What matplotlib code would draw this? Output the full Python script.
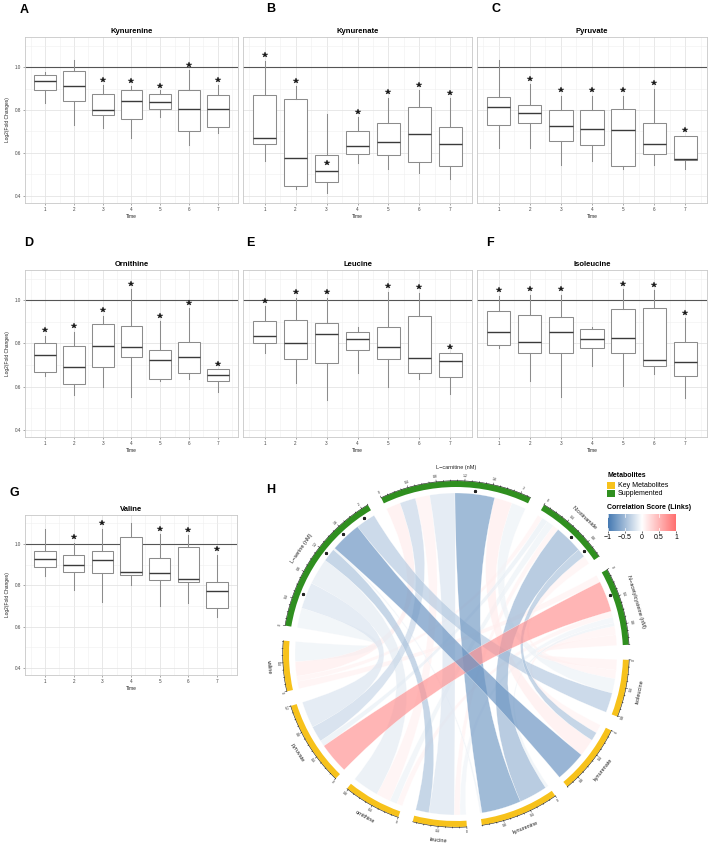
import numpy as np
import matplotlib
matplotlib.use("Agg")
import matplotlib.pyplot as plt
from matplotlib.path import Path
from matplotlib.patches import PathPatch, Wedge, Rectangle
from matplotlib.colors import LinearSegmentedColormap, Normalize

plt.rcParams['font.family'] = ['Liberation Sans', 'DejaVu Sans']

# ---------------- data ----------------
time_points = [1, 2, 3, 4, 5, 6, 7]
y_ticks = [0.4, 0.6, 0.8, 1.0]

# per time point: [lower whisker, Q1, median, Q3, upper whisker]
kynurenine_box = [[0.831, 0.892, 0.937, 0.965, 0.977], [0.728, 0.842, 0.911, 0.980, 1.031],
                  [0.718, 0.775, 0.800, 0.874, 0.915], [0.672, 0.758, 0.842, 0.895, 0.911],
                  [0.766, 0.803, 0.835, 0.874, 0.892], [0.638, 0.702, 0.806, 0.891, 0.985],
                  [0.692, 0.723, 0.803, 0.872, 0.915]]
kynurenine_star = [None, None, 0.940, 0.934, 0.914, 1.010, 0.938]

kynurenate_box = [[0.562, 0.640, 0.668, 0.872, 1.026], [0.431, 0.446, 0.577, 0.849, 0.911],
                  [0.412, 0.466, 0.514, 0.592, 0.782], [0.554, 0.595, 0.634, 0.703, 0.766],
                  [0.523, 0.591, 0.651, 0.738, 0.858], [0.508, 0.557, 0.688, 0.815, 0.892],
                  [0.477, 0.538, 0.643, 0.720, 0.854]]
kynurenate_star = [1.054, 0.935, 0.554, 0.792, 0.885, 0.915, 0.880]

pyruvate_box = [[0.623, 0.729, 0.814, 0.862, 1.034], [0.623, 0.740, 0.785, 0.823, 0.920],
                [0.542, 0.657, 0.726, 0.800, 0.866], [0.562, 0.637, 0.712, 0.800, 0.866],
                [0.523, 0.538, 0.708, 0.806, 0.866], [0.543, 0.595, 0.642, 0.738, 0.900],
                [0.523, 0.566, 0.574, 0.677, 0.677]]
pyruvate_star = [None, 0.946, 0.892, 0.892, 0.892, 0.926, 0.708]

ornithine_box = [[0.651, 0.666, 0.746, 0.803, 0.835], [0.563, 0.612, 0.692, 0.788, 0.855],
                 [0.600, 0.692, 0.789, 0.892, 0.929], [0.551, 0.738, 0.782, 0.880, 1.051],
                 [0.625, 0.635, 0.725, 0.769, 0.905], [0.635, 0.662, 0.738, 0.805, 0.963],
                 [0.574, 0.626, 0.652, 0.682, 0.682]]
ornithine_star = [0.863, 0.880, 0.954, 1.077, 0.928, 0.988, 0.705]

leucine_box = [[0.758, 0.803, 0.835, 0.902, 0.972], [0.615, 0.729, 0.802, 0.908, 1.012],
               [0.540, 0.709, 0.843, 0.894, 1.012], [0.662, 0.769, 0.820, 0.851, 0.874],
               [0.597, 0.726, 0.785, 0.878, 1.040], [0.635, 0.663, 0.731, 0.925, 1.035],
               [0.566, 0.643, 0.718, 0.757, 0.757]]
leucine_star = [0.997, 1.038, 1.038, None, 1.066, 1.062, 0.782]

isoleucine_box = [[0.778, 0.791, 0.851, 0.949, 1.020], [0.628, 0.755, 0.809, 0.932, 1.025],
                  [0.551, 0.754, 0.855, 0.923, 1.025], [0.697, 0.780, 0.822, 0.866, 0.877],
                  [0.605, 0.755, 0.825, 0.958, 1.051], [0.658, 0.697, 0.725, 0.963, 1.046],
                  [0.546, 0.649, 0.712, 0.805, 0.920]]
isoleucine_star = [1.046, 1.051, 1.051, None, 1.077, 1.071, 0.943]

valine_box = [[0.844, 0.887, 0.928, 0.966, 1.074], [0.780, 0.867, 0.897, 0.949, 1.005],
              [0.718, 0.862, 0.923, 0.966, 1.070], [0.800, 0.848, 0.867, 1.033, 1.100],
              [0.698, 0.828, 0.861, 0.933, 1.049], [0.715, 0.818, 0.833, 0.987, 1.041],
              [0.648, 0.693, 0.772, 0.815, 0.948]]
valine_star = [None, 1.034, 1.100, None, 1.074, 1.066, 0.975]

# chord diagram
supplements = ['L\u2212carnitine (nM)', 'Nicotinamide', 'N\u2212acetylcysteine (nM)', 'L\u2212serine (nM)']
metabolites = ['isoleucine', 'kynurenate', 'kynurenine', 'leucine', 'ornithine', 'pyruvate', 'valine']
sector_order = ['L\u2212carnitine (nM)', 'Nicotinamide', 'N\u2212acetylcysteine (nM)', 'isoleucine',
                'kynurenate', 'kynurenine', 'leucine', 'ornithine', 'pyruvate', 'valine',
                'L\u2212serine (nM)']
# link widths (rows: supplements, cols: metabolites)
link_width = np.array([
    [0.22, 0.27, 0.60, 0.38, 0.22, 0.24, 0.22],
    [0.13, 0.13, 0.43, 0.09, 0.11, 0.09, 0.08],
    [0.16, 0.13, 0.05, 0.09, 0.09, 0.47, 0.11],
    [0.30, 0.47, 0.03, 0.20, 0.40, 0.40, 0.30],
])
link_corr = np.array([
    [-0.10, 0.12, -0.75, -0.20, 0.10, -0.30, 0.12],
    [0.08, -0.45, -0.55, 0.08, -0.10, -0.12, 0.08],
    [0.10, 0.08, -0.10, -0.08, 0.08, 0.75, 0.10],
    [-0.40, -0.80, -0.10, -0.45, -0.15, -0.20, -0.10],
])
link_sig = np.array([
    [0, 0, 1, 0, 0, 0, 0],
    [0, 1, 1, 0, 0, 0, 0],
    [0, 0, 0, 0, 0, 1, 0],
    [1, 1, 0, 1, 0, 1, 0],
])
legend_groups = ['Key Metabolites', 'Supplemented']
colorbar_ticks = [-1, -0.5, 0, 0.5, 1]

# ---------------- figure ----------------
W, H = 709, 846
fig = plt.figure(figsize=(W / 100, H / 100), dpi=100)


def px_axes(x0, y0, x1, y1):
    return fig.add_axes([x0 / W, 1 - y1 / H, (x1 - x0) / W, (y1 - y0) / H])


BOX_C = '#8c8c8c'
MED_C = '#3a3a3a'


def box_panel(rect, title, boxes, stars, letter, letter_xy, show_y):
    ax = px_axes(*rect)
    stats = [dict(whislo=b[0], q1=b[1], med=b[2], q3=b[3], whishi=b[4], label=str(t))
             for b, t in zip(boxes, time_points)]
    ax.bxp(stats, positions=time_points, widths=0.75, showfliers=False, showcaps=False,
           patch_artist=True,
           boxprops=dict(facecolor='white', edgecolor=BOX_C, linewidth=0.75),
           whiskerprops=dict(color=BOX_C, linewidth=0.75),
           medianprops=dict(color=MED_C, linewidth=1.0), zorder=3)
    for t, s in zip(time_points, stars):
        if s is not None:
            ax.plot(t, s, marker='*', ms=4.0, color='#1a1a1a', mec='#1a1a1a', mew=0.3, zorder=4)
    ax.axhline(1.0, color='#555555', lw=0.8, zorder=2)
    ax.set_xlim(0.3, 7.7)
    ax.set_ylim(0.367, 1.14)
    ax.set_xticks(time_points)
    ax.set_xticklabels([str(t) for t in time_points])
    ax.set_xticks([0.5 + i for i in range(8)], minor=True)
    ax.set_yticks(y_ticks)
    ax.set_yticks([0.5, 0.7, 0.9, 1.1], minor=True)
    ax.grid(which='major', color='#e4e4e4', lw=0.6, zorder=0)
    ax.grid(which='minor', color='#efefef', lw=0.4, zorder=0)
    ax.set_axisbelow(True)
    ax.tick_params(which='major', length=1.5, width=0.4, color='#666666', labelsize=3.3,
                   labelcolor='#444444', pad=1.5)
    ax.tick_params(which='minor', length=0)
    if show_y:
        ax.set_yticklabels(['0.4', '0.6', '0.8', '1.0'])
        ax.set_ylabel('Log2(Fold Changes)', fontsize=3.5, labelpad=3, color='#222222')
    else:
        ax.tick_params(axis='y', which='both', left=False, labelleft=False)
    ax.set_xlabel('Time', fontsize=3.5, labelpad=1.5, color='#222222')
    for sp in ax.spines.values():
        sp.set_color('#c8c8c8')
        sp.set_linewidth(0.6)
    ax.set_title(title, fontsize=5.5, fontweight='bold', pad=3)
    fig.text(letter_xy[0] / W, 1 - letter_xy[1] / H, letter, fontsize=9, fontweight='bold',
             ha='left', va='top')
    return ax


box_panel((25, 37, 238, 203), 'Kynurenine', kynurenine_box, kynurenine_star, 'A', (20, 4), True)
box_panel((243, 37, 472, 203), 'Kynurenate', kynurenate_box, kynurenate_star, 'B', (266, 3), False)
box_panel((477, 37, 707, 203), 'Pyruvate', pyruvate_box, pyruvate_star, 'C', (492, 3), False)
box_panel((25, 270, 238, 437), 'Ornithine', ornithine_box, ornithine_star, 'D', (24, 237), True)
box_panel((243, 270, 472, 437), 'Leucine', leucine_box, leucine_star, 'E', (246, 237), False)
box_panel((477, 270, 707, 437), 'Isoleucine', isoleucine_box, isoleucine_star, 'F', (486, 237), False)
box_panel((25, 515, 237, 675), 'Valine', valine_box, valine_star, 'G', (9, 487), True)

# ---------------- chord diagram ----------------
CX, CY = 456, 654
axc = px_axes(250, 465, 709, 846)
axc.set_xlim(250 - CX, 709 - CX)
axc.set_ylim(CY - 846, CY - 465)
axc.axis('off')
fig.text(266 / W, 1 - 484 / H, 'H', fontsize=9, fontweight='bold', ha='left', va='top')

GREEN = '#2f8f1f'
YELLOW = '#f7c21b'
cmap = LinearSegmentedColormap.from_list('corr', ['#4579b2', '#ffffff', '#ff6f6f'])
norm = Normalize(-1, 1)

sizes = {}
for i, s in enumerate(supplements):
    sizes[s] = link_width[i].sum()
for j, m in enumerate(metabolites):
    sizes[m] = link_width[:, j].sum()
GAP = 5.0
START = 115.6
deg_per = (360 - GAP * len(sector_order)) / sum(sizes.values())
sec = {}
cur = START
for s in sector_order:
    sec[s] = (cur, cur - sizes[s] * deg_per)
    cur = cur - sizes[s] * deg_per - GAP
center = {s: (a + b) / 2 for s, (a, b) in sec.items()}

# allocate link ends inside each sector (ordered to avoid crossings)
ends = {}
for s in sector_order:
    if s in supplements:
        i = supplements.index(s)
        partners = [(metabolites[j], link_width[i, j], (i, j)) for j in range(len(metabolites))]
    else:
        j = metabolites.index(s)
        partners = [(supplements[i], link_width[i, j], (i, j)) for i in range(len(supplements))]
    partners.sort(key=lambda p: -((center[s] - center[p[0]]) % 360))
    a = sec[s][0]
    for name, w, key in partners:
        ends[(s, key)] = (a, a - w * deg_per)
        a -= w * deg_per

R_LINK = 161
R_IN, R_OUT = 167, 173


def arc_pts(a0, a1, r, n=40):
    t = np.radians(np.linspace(a0, a1, n))
    return np.column_stack([r * np.cos(t), r * np.sin(t)])


def ribbon(a, b, r):
    A = arc_pts(a[0], a[1], r)
    B = arc_pts(b[0], b[1], r)
    verts = [tuple(p) for p in A]
    codes = [Path.MOVETO] + [Path.LINETO] * (len(A) - 1)
    verts += [(0, 0), tuple(B[0])]
    codes += [Path.CURVE3, Path.CURVE3]
    verts += [tuple(p) for p in B[1:]]
    codes += [Path.LINETO] * (len(B) - 1)
    verts += [(0, 0), tuple(A[0]), tuple(A[0])]
    codes += [Path.CURVE3, Path.CURVE3, Path.CLOSEPOLY]
    return Path(verts, codes)


order = sorted([(i, j) for i in range(len(supplements)) for j in range(len(metabolites))],
               key=lambda k: abs(link_corr[k]))
for (i, j) in order:
    a = ends[(supplements[i], (i, j))]
    b = ends[(metabolites[j], (i, j))]
    col = cmap(norm(link_corr[i, j]))
    axc.add_patch(PathPatch(ribbon(a, b, R_LINK), facecolor=col, edgecolor='white',
                            linewidth=0.25, alpha=0.68, zorder=2))
    if link_sig[i, j]:
        mid = np.radians((a[0] + a[1]) / 2)
        axc.plot(164.5 * np.cos(mid), 164.5 * np.sin(mid), marker='*', ms=2.0, color='#222222',
                 zorder=5)

for s in sector_order:
    a0, a1 = sec[s]
    col = GREEN if s in supplements else YELLOW
    axc.add_patch(Wedge((0, 0), R_OUT, a1, a0, width=R_OUT - R_IN, facecolor=col,
                        edgecolor='none', zorder=3))
    p = arc_pts(a0, a1, R_OUT + 0.3)
    axc.plot(p[:, 0], p[:, 1], color='black', lw=0.35, zorder=4)
    v = 0.0
    k = 0
    while v <= sizes[s] + 1e-9:
        ang = np.radians(a0 - v * deg_per)
        major = (k % 4 == 0)
        L = 2.2 if major else 1.2
        axc.plot([R_OUT * np.cos(ang), (R_OUT + L) * np.cos(ang)],
                 [R_OUT * np.sin(ang), (R_OUT + L) * np.sin(ang)], color='black', lw=0.3,
                 zorder=4)
        if major:
            deg = np.degrees(ang)
            rot = deg - 90 if np.sin(ang) >= 0 else deg + 90
            lab = ('%g' % round(v, 1))
            axc.text((R_OUT + 5.5) * np.cos(ang), (R_OUT + 5.5) * np.sin(ang), lab,
                     fontsize=2.4, ha='center', va='center', rotation=rot,
                     rotation_mode='anchor', color='#222222')
        v += 0.1
        k += 1
    mid = np.radians(center[s])
    deg = center[s]
    rot = deg - 90 if np.sin(mid) >= 0 else deg + 90
    axc.text((R_OUT + 14) * np.cos(mid), (R_OUT + 14) * np.sin(mid), s, fontsize=4,
             ha='center', va='center', rotation=rot, rotation_mode='anchor', color='#222222')

# ---------------- legend ----------------
fig.text(607 / W, 1 - 475 / H, 'Metabolites', fontsize=5, fontweight='bold', va='center',
         ha='left')
for k, (lab, col) in enumerate(zip(legend_groups, [YELLOW, GREEN])):
    y = 485.5 + k * 8
    fig.patches.append(Rectangle((607 / W, 1 - (y + 3.5) / H), 8 / W, 7 / H, facecolor=col,
                                 edgecolor='none', transform=fig.transFigure, figure=fig))
    fig.text(618 / W, 1 - y / H, lab, fontsize=5, va='center', ha='left')
fig.text(607 / W, 1 - 507 / H, 'Correlation Score (Links)', fontsize=5, fontweight='bold',
         va='center', ha='left')
cax = px_axes(607, 514, 677, 531)
grad = np.linspace(-1, 1, 256).reshape(1, -1)
cax.imshow(grad, aspect='auto', cmap=cmap, norm=norm, extent=[-1, 1, 0, 1])
for t in colorbar_ticks:
    cax.plot([t, t], [0, 0.15], color='white', lw=0.5)
    cax.plot([t, t], [0.85, 1], color='white', lw=0.5)
cax.set_xlim(-1.03, 1.03)
cax.set_xticks(colorbar_ticks)
cax.set_xticklabels(['\u22121', '\u22120.5', '0', '0.5', '1'])
cax.tick_params(axis='x', length=1.5, width=0.4, labelsize=5, pad=1)
cax.set_yticks([])
for sp in cax.spines.values():
    sp.set_visible(False)

fig.savefig('out.png', dpi=100, facecolor='white')
